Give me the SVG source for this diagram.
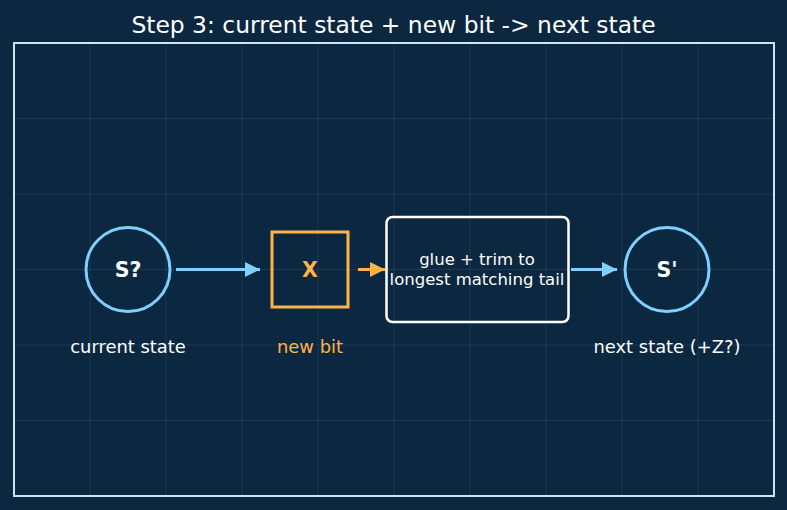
<svg xmlns="http://www.w3.org/2000/svg" width="787" height="510" viewBox="0 0 787 510">
<style>
text{font-family:"DejaVu Sans","Bitstream Vera Sans",sans-serif}
.grid{stroke:#2a4763;stroke-width:0.8;opacity:0.7}
.lbl{font-size:17.9px;text-anchor:middle}
.nd{font-size:20.5px;font-weight:bold;text-anchor:middle}
.box{font-size:16.5px;text-anchor:middle;fill:#ffffff}
</style>
<defs>
<marker id="ab" viewBox="0 0 10 10" refX="10" refY="5" markerWidth="5" markerHeight="5" orient="auto" markerUnits="strokeWidth"><path d="M0,0 L10,5 L0,10 Z" fill="#7fcfff"/></marker>
<marker id="ao" viewBox="0 0 10 10" refX="10" refY="5" markerWidth="5" markerHeight="5" orient="auto" markerUnits="strokeWidth"><path d="M0,0 L10,5 L0,10 Z" fill="#ffb347"/></marker>
</defs>
<rect width="787" height="510" fill="#0c2840"/>
<text x="393.5" y="32.5" font-size="23.4" fill="#ffffff" text-anchor="middle">Step 3: current state + new bit -&gt; next state</text>
<rect x="14" y="43" width="760" height="453" fill="#0c2840"/>
<g id="grid">
<line class="grid" x1="90" y1="43" x2="90" y2="496"/>
<line class="grid" x1="166" y1="43" x2="166" y2="496"/>
<line class="grid" x1="242" y1="43" x2="242" y2="496"/>
<line class="grid" x1="318" y1="43" x2="318" y2="496"/>
<line class="grid" x1="394" y1="43" x2="394" y2="496"/>
<line class="grid" x1="470" y1="43" x2="470" y2="496"/>
<line class="grid" x1="546" y1="43" x2="546" y2="496"/>
<line class="grid" x1="622" y1="43" x2="622" y2="496"/>
<line class="grid" x1="698" y1="43" x2="698" y2="496"/>
<line class="grid" x1="14" y1="118.5" x2="774" y2="118.5"/>
<line class="grid" x1="14" y1="194" x2="774" y2="194"/>
<line class="grid" x1="14" y1="269.5" x2="774" y2="269.5"/>
<line class="grid" x1="14" y1="345" x2="774" y2="345"/>
<line class="grid" x1="14" y1="420.5" x2="774" y2="420.5"/>
</g>
<rect x="14" y="43" width="760" height="453" fill="none" stroke="#cfe3f5" stroke-width="2"/>
<g id="connectors">
<line x1="176" y1="269.5" x2="260" y2="269.5" stroke="#7fcfff" stroke-width="3" marker-end="url(#ab)"/>
<line x1="358" y1="269.5" x2="385" y2="269.5" stroke="#ffb347" stroke-width="3" marker-end="url(#ao)"/>
<line x1="571" y1="269.5" x2="617" y2="269.5" stroke="#7fcfff" stroke-width="3" marker-end="url(#ab)"/>
</g>
<g id="s_current">
<circle cx="128" cy="269.5" r="42" fill="none" stroke="#7fcfff" stroke-width="3"/>
<text class="nd" x="128" y="277" fill="#ffffff">S?</text>
<text class="lbl" x="128" y="353" fill="#ffffff">current state</text>
</g>
<g id="x_bit">
<rect x="272" y="232" width="76" height="75" fill="none" stroke="#ffb347" stroke-width="3"/>
<text class="nd" x="310" y="277" fill="#ffb347" font-size="23">X</text>
<text class="lbl" x="310" y="353" fill="#ffb347">new bit</text>
</g>
<g id="glue">
<rect x="386.5" y="217" width="182" height="105" rx="6" fill="none" stroke="#ffffff" stroke-width="2.5"/>
<text class="box" x="477" y="265">glue + trim to</text>
<text class="box" x="477" y="285">longest matching tail</text>
</g>
<g id="s_next">
<circle cx="667" cy="269.5" r="42" fill="none" stroke="#7fcfff" stroke-width="3"/>
<text class="nd" x="667" y="277" fill="#ffffff">S'</text>
<text class="lbl" x="667" y="353" fill="#ffffff">next state (+Z?)</text>
</g>
</svg>
